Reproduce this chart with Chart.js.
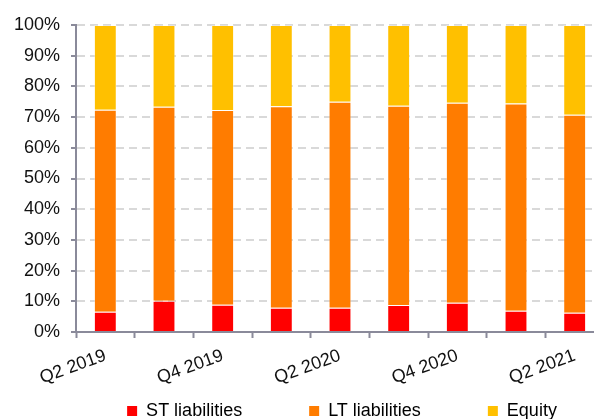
<!DOCTYPE html>
<html>
<head>
<meta charset="utf-8">
<script src="https://cdn.jsdelivr.net/npm/chart.js@4/dist/chart.umd.min.js"></script>
<style>
  html, body { margin: 0; padding: 0; overflow: hidden; background: #fff; }
  #wrap { width: 604px; height: 430px; }
</style>
</head>
<body>
<div id="wrap"><canvas id="c" width="604" height="430"></canvas></div>
<script>
const categories = ['Q2 2019', 'Q3 2019', 'Q4 2019', 'Q1 2020', 'Q2 2020', 'Q3 2020', 'Q4 2020', 'Q1 2021', 'Q2 2021'];
const stLiabilities = [6.6, 10.2, 8.9, 7.9, 7.9, 8.8, 9.5, 6.9, 6.3];
const ltLiabilities = [65.8, 63.2, 63.4, 65.6, 67.1, 64.9, 65.2, 67.5, 64.5];
const equity = [27.6, 26.6, 27.7, 26.5, 25.0, 26.3, 25.3, 25.6, 29.2];
const seriesNames = ['ST liabilities', 'LT liabilities', 'Equity'];
const seriesColors = ['#ff0000', '#ff7c00', '#ffc000'];

const axisGray = '#8a8a9a';
const FONT = { family: '"Liberation Sans", Arial, sans-serif', size: 18 };

const layoutTweak = {
  id: 'layoutTweak',
  afterLayout(chart) {
    if (chart.legend) {
      chart.legend.left += 40;
      chart.legend.right += 40;
    }
    // let the rotated x labels draw below the (thin) x scale box
    if (chart.scales.x) {
      chart.scales.x.bottom = chart.height;
    }
  }
};

new Chart(document.getElementById('c'), {
  type: 'bar',
  data: {
    labels: categories,
    datasets: [
      { label: seriesNames[0], data: stLiabilities, backgroundColor: seriesColors[0] },
      { label: seriesNames[1], data: ltLiabilities, backgroundColor: seriesColors[1] },
      { label: seriesNames[2], data: equity, backgroundColor: seriesColors[2] }
    ]
  },
  options: {
    responsive: false,
    animation: false,
    layout: { padding: { top: 25, left: 0, right: 0, bottom: 0 } },
    datasets: {
      bar: {
        categoryPercentage: 1,
        barPercentage: 0.39,
        borderWidth: 1,
        borderColor: 'rgba(255,255,255,0.3)'
      }
    },
    plugins: {
      tooltip: { enabled: false },
      legend: {
        position: 'bottom',
        labels: {
          font: FONT,
          color: '#111',
          boxWidth: 10,
          boxHeight: 10,
          padding: 67,
          generateLabels(chart) {
            return chart.data.datasets.map((ds, i) => ({
              text: ds.label,
              fillStyle: seriesColors[i],
              strokeStyle: seriesColors[i],
              lineWidth: 0,
              hidden: false,
              datasetIndex: i
            }));
          }
        }
      }
    },
    scales: {
      x: {
        stacked: true,
        afterFit(scale) { scale.height = 3; },
        grid: {
          display: true,
          drawOnChartArea: false,
          drawTicks: true,
          tickLength: 6,
          tickColor: axisGray,
          tickWidth: 2,
          offset: true
        },
        border: { display: true, color: axisGray, width: 2 },
        ticks: {
          font: FONT,
          color: '#111',
          autoSkip: false,
          minRotation: 20,
          maxRotation: 20,
          padding: 7,
          callback(value, index) { return index % 2 === 0 ? categories[index] : ''; }
        }
      },
      y: {
        stacked: true,
        min: 0,
        max: 100,
        afterFit(scale) { scale.width = 76; },
        grid: {
          color: '#d9d9d9',
          lineWidth: 2,
          drawTicks: true,
          tickLength: 5,
          tickColor: axisGray,
          tickWidth: 2,
          tickBorderDash: []
        },
        border: { display: true, color: axisGray, width: 2, dash: [8, 5] },
        ticks: {
          font: FONT,
          color: '#111',
          stepSize: 10,
          padding: 11,
          callback(v) { return v + '%'; }
        }
      }
    }
  },
  plugins: [layoutTweak]
});
</script>
</body>
</html>
